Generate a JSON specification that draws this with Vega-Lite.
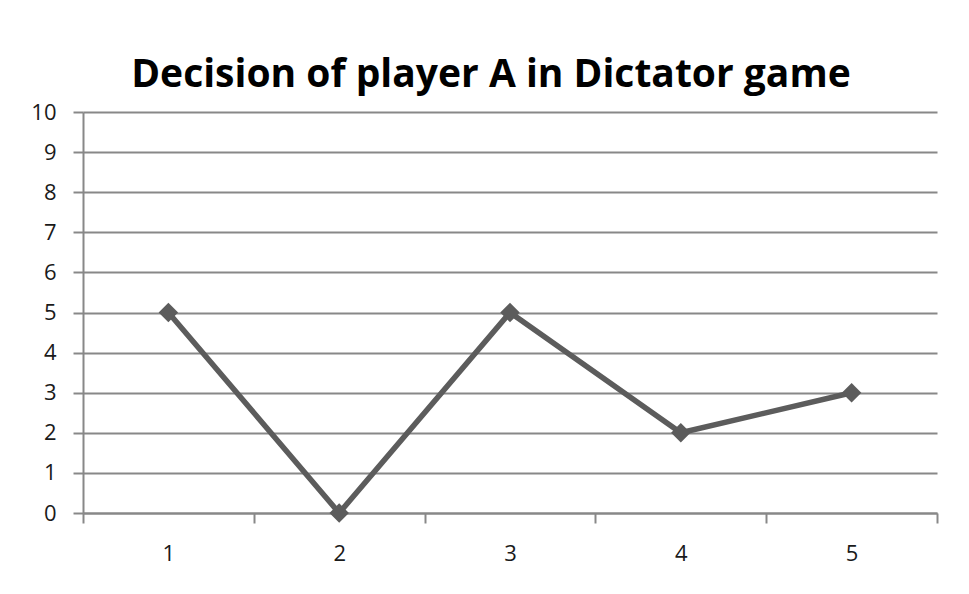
{
  "$schema": "https://vega.github.io/schema/vega-lite/v6.json",
  "width": 854,
  "height": 401,
  "autosize": {"type": "none"},
  "padding": {"left": 83, "top": 112, "right": 32, "bottom": 81},
  "background": "white",
  "title": {
    "text": "Decision of player A in Dictator game",
    "font": "Open Sans",
    "fontSize": 39,
    "fontWeight": "bold",
    "color": "#000000",
    "anchor": "middle",
    "dx": -19,
    "offset": 6
  },
  "data": {
    "values": [
      {"round": "1", "amount": 5},
      {"round": "2", "amount": 0},
      {"round": "3", "amount": 5},
      {"round": "4", "amount": 2},
      {"round": "5", "amount": 3}
    ]
  },
  "mark": {
    "type": "line",
    "color": "#5c5c5c",
    "strokeWidth": 5.5,
    "point": {"shape": "diamond", "size": 380, "filled": true, "color": "#5c5c5c"}
  },
  "encoding": {
    "x": {
      "field": "round",
      "type": "ordinal",
      "scale": {"type": "band", "paddingInner": 0, "paddingOuter": 0},
      "axis": {
        "title": null,
        "labelAngle": 0,
        "labelFont": "Open Sans",
        "labelFontSize": 22,
        "labelColor": "#1a1a1a",
        "labelPadding": 20,
        "tickBand": "extent",
        "tickSize": 10,
        "tickColor": "#888888",
        "tickWidth": 2,
        "domainColor": "#888888",
        "domainWidth": 2,
        "grid": false
      }
    },
    "y": {
      "field": "amount",
      "type": "quantitative",
      "scale": {"domain": [0, 10], "nice": false, "zero": true},
      "axis": {
        "title": null,
        "values": [0, 1, 2, 3, 4, 5, 6, 7, 8, 9, 10],
        "labelFont": "Open Sans",
        "labelFontSize": 22,
        "labelColor": "#1a1a1a",
        "labelPadding": 17,
        "tickSize": 10,
        "tickColor": "#888888",
        "tickWidth": 2,
        "domainColor": "#888888",
        "domainWidth": 2,
        "grid": true,
        "gridColor": "#888888",
        "gridWidth": 2
      }
    }
  },
  "config": {"view": {"stroke": null}}
}
